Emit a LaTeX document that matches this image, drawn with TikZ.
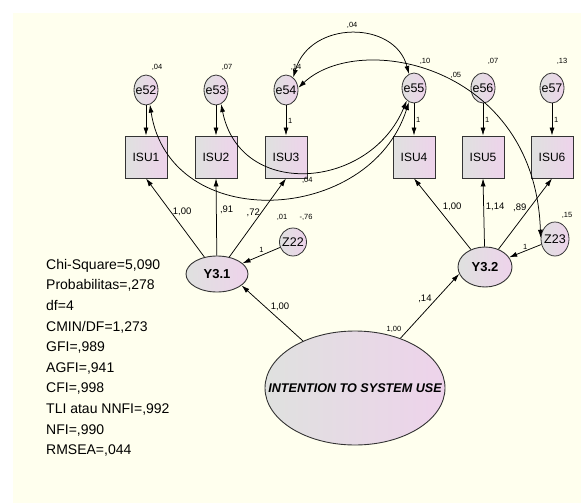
\documentclass[tikz,border=0pt]{standalone}
\usepackage{fontspec}
\setsansfont{Liberation Sans}
\usetikzlibrary{arrows.meta,shapes.geometric,positioning,calc}
\definecolor{cream}{HTML}{FFFFEE}
\definecolor{lgray}{HTML}{DFE1DF}
\definecolor{lpink}{HTML}{EED3EB}
\newcommand{\nb}[1]{\makebox[0pt]{#1}}

\begin{document}
\begin{tikzpicture}[x=1pt,y=-1pt,font=\sffamily,
  arr/.style={-{Latex[length=8pt,width=5pt]},line width=.75pt},
  dbl/.style={{Latex[length=8pt,width=5pt]}-{Latex[length=8pt,width=5pt]},line width=.75pt},
  err/.style={draw=black!80,ellipse,line width=.8pt,left color=lgray,right color=lpink,inner sep=0pt,minimum width=24pt,minimum height=30pt,font=\fontsize{12.5}{14}\sffamily},
  obs/.style={draw=black!80,rectangle,line width=.9pt,left color=lgray,right color=lpink,minimum size=42pt,font=\fontsize{12}{14}\sffamily},
  lat/.style={draw=black!80,ellipse,line width=.9pt,left color=lgray,right color=lpink,inner sep=0pt,font=\fontsize{13}{15}\sffamily\bfseries},
  lbl/.style={font=\fontsize{9.5}{11}\sffamily},
  var/.style={font=\fontsize{7.5}{9}\sffamily}]
\useasboundingbox (0,0) rectangle (581,503);
\fill[cream] (13,13) rectangle (581,503);
% error terms
\node[err] (e52) at (146,90){\nb{e52}};
\node[err] (e53) at (216,90){\nb{e53}};
\node[err] (e54) at (286,90){\nb{e54}};
\node[err] (e55) at (414,88){\nb{e55}};
\node[err] (e56) at (483,88){\nb{e56}};
\node[err] (e57) at (552,88){\nb{e57}};
\node[var] at (157,67){,04};
\node[var] at (227,67){,07};
\node[var] at (296,67){,14};
\node[var] at (425,61){,10};
\node[var] at (493,61){,07};
\node[var] at (562,61){,13};
% indicators
\node[obs] (isu1) at (146,157){ISU1};
\node[obs] (isu2) at (216,157){ISU2};
\node[obs] (isu3) at (286,157){ISU3};
\node[obs] (isu4) at (414,157){ISU4};
\node[obs] (isu5) at (483,157){ISU5};
\node[obs] (isu6) at (552,157){ISU6};
% latent variables
\node[lat,minimum width=62pt,minimum height=36pt] (y31) at (217,274){\nb{Y3.1}};
\node[lat,minimum width=54pt,minimum height=40pt] (y32) at (485,267){\nb{Y3.2}};
\node[err,minimum width=27pt,minimum height=28pt] (z22) at (293,242){\nb{Z22}};
\node[err,minimum width=28pt,minimum height=34pt] (z23) at (555,239){\nb{Z23}};
\node[lat,minimum width=180pt,minimum height=114pt,font=\fontsize{12.6}{15}\sffamily\bfseries\itshape] (its) at (355,388){\nb{INTENTION TO SYSTEM USE}};
\node[var] at (282,217){,01};
\node[var] at (306,217){-,76};
\node[var] at (567,215){,15};
\node[var] at (394,329){1,00};
% paths
\draw[arr] (e52) -- (isu1);
\draw[arr] (e53) -- (isu2);
\draw[arr] (e54) -- node[var,right=-1.5pt]{1} (isu3);
\draw[arr] (e55) -- node[var,right=-1.5pt]{1} (isu4);
\draw[arr] (e56) -- node[var,right=-1.5pt]{1} (isu5);
\draw[arr] (e57) -- node[var,right=-1.5pt]{1} (isu6);
\draw[arr] (y31) -- node[lbl,pos=.57,right=-2pt]{1,00} (isu1.south);
\draw[arr] (y31) -- node[lbl,pos=.6,right]{,91} (isu2.south);
\draw[arr] (y31) -- node[lbl,pos=.56,left=-2.5pt]{,72} (isu3.south);
\draw[arr] (y32) -- node[lbl,pos=.6,right=2.5pt]{1,00} (isu4.south);
\draw[arr] (y32) -- node[lbl,pos=.58,right=-1.5pt]{1,14} (isu5.south);
\draw[arr] (y32) -- node[lbl,pos=.59,left]{,89} (isu6.south);
\draw[arr] (z22) -- node[var,above=-1pt]{1} (y31);
\draw[arr] (z23) -- node[var,above=-2pt]{1} (y32);
\draw[arr] (its) -- node[lbl,pos=.61,right=1.5pt]{1,00} (y31.335);
\draw[arr] (its) -- node[lbl,pos=.61,left=1pt]{,14} (y32.195);
% covariances
\draw[dbl] (e54.60) .. controls (310,20) and (395,20) .. (e55.110) node[var,pos=.5,above=2pt]{,04};
\draw[dbl] (e54.10) .. controls (360,30) and (535,65) .. (z23.175) node[var,pos=.55,above=2pt]{,05};
\draw[dbl] (e53.290) .. controls (240,200) and (370,190) .. (e55.240) node[var,pos=.5,below=2pt]{,04};
\draw[dbl] (e52.285) .. controls (170,235) and (370,225) .. (e55.250);
% fit indices
\node[anchor=north west,inner sep=0pt,align=left,font=\fontsize{14}{20.6}\sffamily] (fit) at (46,259){Chi-Square=5,090\\Probabilitas=,278\\df=4\\CMIN/DF=1,273\\GFI=,989\\AGFI=,941\\CFI=,998\\TLI atau NNFI=,992\\NFI=,990\\RMSEA=,044};
\end{tikzpicture}
\end{document}
